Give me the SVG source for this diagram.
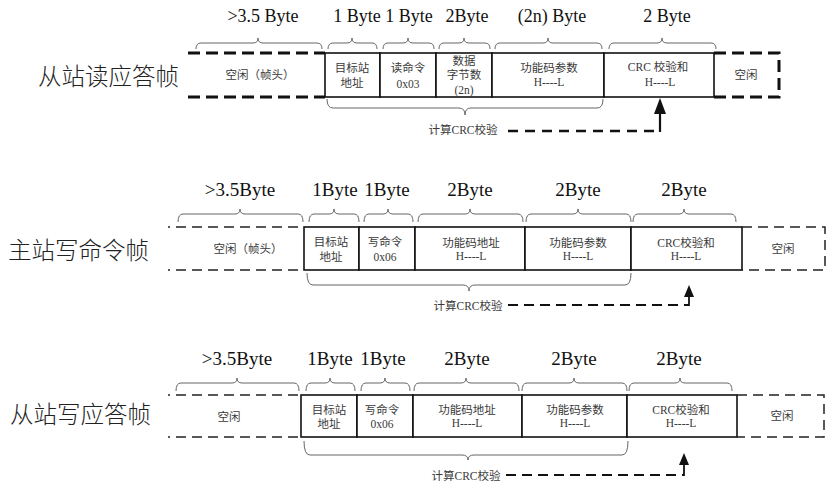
<svg xmlns="http://www.w3.org/2000/svg" width="828" height="483" viewBox="0 0 828 483">
<style>
.title{font-family:"Noto Sans CJK SC","Noto Sans",sans-serif;font-size:23.5px;font-weight:300;fill:#222;dominant-baseline:central}
.byte{font-family:"Liberation Serif","Noto Sans CJK SC",serif;font-size:19px;fill:#111;text-anchor:middle}
.byte1{font-size:18px}
.ct{font-family:"Liberation Serif","Noto Sans CJK SC",serif;font-size:11.5px;fill:#3a3a3a;text-anchor:middle;dominant-baseline:central}
.cell{fill:#fff;stroke:#111;stroke-width:1.6}
.brace{fill:none;stroke:#666;stroke-width:1}
.dT{fill:none;stroke:#111;stroke-width:3;stroke-dasharray:12 6}
.dt{fill:none;stroke:#222;stroke-width:1.5;stroke-dasharray:10 6}
.lnk{fill:none;stroke:#111;stroke-width:2.4;stroke-dasharray:10 7}
.lnks{fill:none;stroke:#111;stroke-width:1.8;stroke-dasharray:10 6}
.up{fill:none;stroke:#111;stroke-width:2.2}
.ups{fill:none;stroke:#111;stroke-width:1.8}
</style>
<defs>
<marker id="arrowL" markerUnits="userSpaceOnUse" markerWidth="16" markerHeight="12" refX="0" refY="6" orient="auto" viewBox="0 0 16 12"><path d="M0,0 L16,6 L0,12 z" fill="#111"/></marker>
<marker id="arrowS" markerUnits="userSpaceOnUse" markerWidth="12" markerHeight="10" refX="0" refY="5" orient="auto" viewBox="0 0 12 10"><path d="M0,0 L12,5 L0,10 z" fill="#111"/></marker>
</defs>
<rect width="828" height="483" fill="#fff"/>

<!-- ========== Frame 1: 从站读应答帧 ========== -->
<g id="frame1">
<text class="title" x="38" y="75">从站读应答帧</text>
<g id="f1-sizes">
<text class="byte byte1" x="263" y="22">&gt;3.5 Byte</text>
<text class="byte byte1" x="357" y="22">1 Byte</text>
<text class="byte byte1" x="409" y="22">1 Byte</text>
<text class="byte byte1" x="467" y="22">2Byte</text>
<text class="byte byte1" x="552" y="22">(2n) Byte</text>
<text class="byte byte1" x="667" y="22">2 Byte</text>
</g>
<g id="f1-braces">
<path class="brace" d="M196,49 Q196,43 201,43 H253 Q258,43 258,38 Q258,43 263,43 H317 Q322,43 322,49"/>
<path class="brace" d="M328,49 Q328,43 333,43 H347 Q352,43 352,38 Q352,43 357,43 H372 Q377,43 377,49"/>
<path class="brace" d="M383,49 Q383,43 388,43 H403 Q408,43 408,38 Q408,43 413,43 H429 Q434,43 434,49"/>
<path class="brace" d="M439,49 Q439,43 444,43 H459 Q464,43 464,38 Q464,43 469,43 H485 Q490,43 490,49"/>
<path class="brace" d="M495,49 Q495,43 500,43 H543 Q548,43 548,38 Q548,43 553,43 H597 Q602,43 602,49"/>
<path class="brace" d="M609,49 Q609,43 614,43 H657 Q662,43 662,38 Q662,43 667,43 H711 Q716,43 716,49"/>
<path class="brace" d="M327,99 Q327,108 333,108 H459 Q465,108 465,115 Q465,108 471,108 H597 Q603,108 603,99"/>
</g>
<g id="f1-idle-head">
<path class="dT" d="M188,53 H325 M188,97 H325"/>
<text class="ct" x="260" y="75">空闲（帧头）</text>
</g>
<g id="f1-addr">
<rect class="cell" x="325" y="53" width="55" height="44"/>
<text class="ct" x="352" y="68">目标站</text>
<text class="ct" x="352" y="83">地址</text>
</g>
<g id="f1-cmd">
<rect class="cell" x="380" y="53" width="56" height="44"/>
<text class="ct" x="408" y="68">读命令</text>
<text class="ct" x="408" y="84">0x03</text>
</g>
<g id="f1-count">
<rect class="cell" x="436" y="53" width="56" height="44"/>
<text class="ct" x="464" y="61">数据</text>
<text class="ct" x="464" y="75">字节数</text>
<text class="ct" x="464" y="90">(2n)</text>
</g>
<g id="f1-param">
<rect class="cell" x="492" y="53" width="112" height="44"/>
<text class="ct" x="549" y="68">功能码参数</text>
<text class="ct" x="549" y="82">H----L</text>
</g>
<g id="f1-crc">
<rect class="cell" x="604" y="53" width="110" height="44"/>
<text class="ct" x="658" y="67">CRC 校验和</text>
<text class="ct" x="660" y="82">H----L</text>
</g>
<g id="f1-idle-tail">
<path class="dT" d="M714,53 H779 V97 H714"/>
<text class="ct" x="746" y="75">空闲</text>
</g>
<text class="ct" x="463" y="130">计算CRC校验</text>
</g>

<!-- ========== Frame 2: 主站写命令帧 ========== -->
<g id="frame2">
<text class="title" x="8" y="249">主站写命令帧</text>
<g id="f2-sizes">
<text class="byte" x="240" y="196">&gt;3.5Byte</text>
<text class="byte" x="335" y="196">1Byte</text>
<text class="byte" x="387" y="196">1Byte</text>
<text class="byte" x="470" y="196">2Byte</text>
<text class="byte" x="578" y="196">2Byte</text>
<text class="byte" x="684" y="196">2Byte</text>
</g>
<g id="f2-braces">
<path class="brace" d="M178,222 Q178,214 183,214 H235 Q240,214 240,209 Q240,214 245,214 H298 Q303,214 303,222"/>
<path class="brace" d="M309,222 Q309,214 314,214 H329 Q334,214 334,209 Q334,214 339,214 H354 Q359,214 359,222"/>
<path class="brace" d="M364,222 Q364,214 369,214 H383 Q388,214 388,209 Q388,214 393,214 H408 Q413,214 413,222"/>
<path class="brace" d="M418,222 Q418,214 423,214 H465 Q470,214 470,209 Q470,214 475,214 H518 Q523,214 523,222"/>
<path class="brace" d="M526,222 Q526,214 531,214 H573 Q578,214 578,209 Q578,214 583,214 H626 Q631,214 631,222"/>
<path class="brace" d="M633,222 Q633,214 638,214 H679 Q684,214 684,209 Q684,214 689,214 H731 Q736,214 736,222"/>
<path class="brace" d="M307,273 Q307,285 313,285 H463 Q469,285 469,291 Q469,285 475,285 H625 Q631,285 631,273"/>
</g>
<g id="f2-idle-head">
<path class="dt" d="M168,227 H304 M168,270 H304" stroke-dashoffset="8"/>
<text class="ct" x="248" y="249">空闲（帧头）</text>
</g>
<g id="f2-addr">
<rect class="cell" x="304" y="227" width="55" height="43"/>
<text class="ct" x="331" y="242">目标站</text>
<text class="ct" x="331" y="257">地址</text>
</g>
<g id="f2-cmd">
<rect class="cell" x="359" y="227" width="56" height="43"/>
<text class="ct" x="385" y="242">写命令</text>
<text class="ct" x="385" y="257">0x06</text>
</g>
<g id="f2-addr-fn">
<rect class="cell" x="415" y="227" width="110" height="43"/>
<text class="ct" x="471" y="243">功能码地址</text>
<text class="ct" x="471" y="256">H----L</text>
</g>
<g id="f2-param">
<rect class="cell" x="525" y="227" width="106" height="43"/>
<text class="ct" x="578" y="243">功能码参数</text>
<text class="ct" x="578" y="256">H----L</text>
</g>
<g id="f2-crc">
<rect class="cell" x="631" y="227" width="111" height="43"/>
<text class="ct" x="686" y="243">CRC校验和</text>
<text class="ct" x="686" y="256">H----L</text>
</g>
<g id="f2-idle-tail">
<path class="dt" d="M742,227 H825 V270 H742"/>
<text class="ct" x="783" y="249">空闲</text>
</g>
<text class="ct" x="468" y="306">计算CRC校验</text>
</g>

<!-- ========== Frame 3: 从站写应答帧 ========== -->
<g id="frame3">
<text class="title" x="10" y="413">从站写应答帧</text>
<g id="f3-sizes">
<text class="byte" x="237" y="365">&gt;3.5Byte</text>
<text class="byte" x="330" y="365">1Byte</text>
<text class="byte" x="383" y="365">1Byte</text>
<text class="byte" x="467" y="365">2Byte</text>
<text class="byte" x="574" y="365">2Byte</text>
<text class="byte" x="679" y="365">2Byte</text>
</g>
<g id="f3-braces">
<path class="brace" d="M176,391 Q176,383 181,383 H232 Q237,383 237,378 Q237,383 242,383 H294 Q299,383 299,391"/>
<path class="brace" d="M306,391 Q306,383 311,383 H325 Q330,383 330,378 Q330,383 335,383 H350 Q355,383 355,391"/>
<path class="brace" d="M361,391 Q361,383 366,383 H380 Q385,383 385,378 Q385,383 390,383 H405 Q410,383 410,391"/>
<path class="brace" d="M414,391 Q414,383 419,383 H461 Q466,383 466,378 Q466,383 471,383 H514 Q519,383 519,391"/>
<path class="brace" d="M522,391 Q522,383 527,383 H569 Q574,383 574,378 Q574,383 579,383 H622 Q627,383 627,391"/>
<path class="brace" d="M629,391 Q629,383 634,383 H675 Q680,383 680,378 Q680,383 685,383 H727 Q732,383 732,391"/>
<path class="brace" d="M304,441 Q304,455 310,455 H462 Q468,455 468,460 Q468,455 474,455 H622 Q628,455 628,441"/>
</g>
<g id="f3-idle-head">
<path class="dt" d="M168,395 H301 M168,437 H301" stroke-dashoffset="8"/>
<text class="ct" x="229" y="417">空闲</text>
</g>
<g id="f3-addr">
<rect class="cell" x="301" y="395" width="56" height="42"/>
<text class="ct" x="329" y="410">目标站</text>
<text class="ct" x="329" y="424">地址</text>
</g>
<g id="f3-cmd">
<rect class="cell" x="357" y="395" width="56" height="42"/>
<text class="ct" x="382" y="410">写命令</text>
<text class="ct" x="382" y="424">0x06</text>
</g>
<g id="f3-addr-fn">
<rect class="cell" x="413" y="395" width="109" height="42"/>
<text class="ct" x="467" y="410">功能码地址</text>
<text class="ct" x="467" y="423">H----L</text>
</g>
<g id="f3-param">
<rect class="cell" x="522" y="395" width="105" height="42"/>
<text class="ct" x="575" y="410">功能码参数</text>
<text class="ct" x="575" y="423">H----L</text>
</g>
<g id="f3-crc">
<rect class="cell" x="627" y="395" width="110" height="42"/>
<text class="ct" x="681" y="410">CRC校验和</text>
<text class="ct" x="681" y="423">H----L</text>
</g>
<g id="f3-idle-tail">
<path class="dt" d="M737,395 H824 V437 H737"/>
<text class="ct" x="782" y="416">空闲</text>
</g>
<text class="ct" x="466" y="476">计算CRC校验</text>
</g>

<!-- ========== Connectors ========== -->
<g id="connectors">
<path class="lnk" d="M508,131 H660"/>
<path class="up" d="M660,132 V114" marker-end="url(#arrowL)"/>
<path class="lnks" d="M508,305 H689"/>
<path class="ups" d="M689,306 V297" marker-end="url(#arrowS)"/>
<path class="lnks" d="M506,475 H684"/>
<path class="ups" d="M684,476 V465" marker-end="url(#arrowS)"/>
</g>
</svg>
